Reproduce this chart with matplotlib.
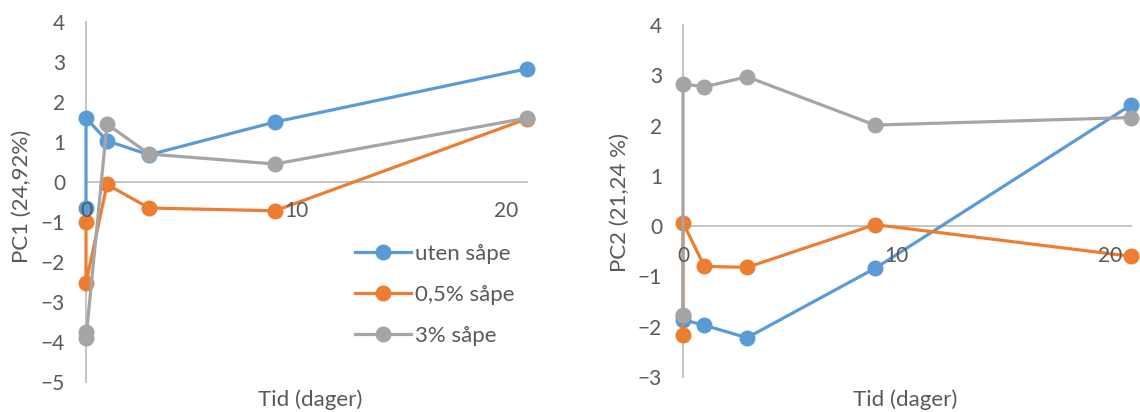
import matplotlib.pyplot as plt

plt.rcParams['font.family'] = ['Lato', 'DejaVu Sans']

days = [0, 0, 1, 3, 9, 21]

pc1_uten = [-0.66, 1.60, 1.03, 0.68, 1.50, 2.83]
pc1_05 = [-1.01, -2.53, -0.06, -0.65, -0.72, 1.58]
pc1_3 = [-3.74, -3.91, 1.45, 0.70, 0.45, 1.60]

pc2_uten = [-1.78, -1.86, -1.97, -2.22, -0.84, 2.41]
pc2_05 = [-2.17, 0.07, -0.80, -0.82, 0.03, -0.60]
pc2_3 = [-1.77, 2.83, 2.77, 2.97, 2.01, 2.16]

labels = ['uten såpe', '0,5% såpe', '3% såpe']
colors = ['#5B9BD5', '#ED7D31', '#A5A5A5']
txt = '#595959'
axcol = '#BFBFBF'

fig = plt.figure(figsize=(11.4, 4.12), dpi=100)
ax1 = fig.add_axes([86 / 1140, 1 - 382 / 412, 441 / 1140, 360 / 412])
ax2 = fig.add_axes([683 / 1140, 1 - 377 / 412, 448 / 1140, 352 / 412])


def style(ax, ylo, yhi, ylabel):
    ax.set_xlim(0, 21)
    ax.set_ylim(ylo, yhi)
    ax.set_yticks(range(ylo, yhi + 1))
    ax.set_xticks([0, 10, 20])
    for s in ['top', 'right']:
        ax.spines[s].set_visible(False)
    ax.spines['bottom'].set_position(('data', 0))
    ax.spines['left'].set_color(axcol)
    ax.spines['bottom'].set_color(axcol)
    ax.spines['left'].set_linewidth(1.3)
    ax.spines['bottom'].set_linewidth(1.3)
    ax.tick_params(axis='y', length=0, pad=15, labelsize=15, labelcolor=txt)
    ax.tick_params(axis='x', length=0, pad=14, labelsize=15, labelcolor=txt)
    ax.set_ylabel(ylabel, fontsize=16, color=txt)
    ax.set_xlabel('Tid (dager)', fontsize=16, color=txt)
    ax.xaxis.set_zorder(4)
    ax.patch.set_visible(False)


for ax, series in [(ax1, [pc1_uten, pc1_05, pc1_3]), (ax2, [pc2_uten, pc2_05, pc2_3])]:
    for vals, c, lab in zip(series, colors, labels):
        ax.plot(days, vals, color=c, lw=2.3, marker='o', ms=10.5, label=lab,
                clip_on=False, zorder=3)

style(ax1, -5, 4, 'PC1 (24,92%)')
style(ax2, -3, 4, 'PC2 (21,24 %)')
ax1.yaxis.set_label_coords(-0.145, 0.517)
ax2.yaxis.set_label_coords(-0.141, 0.497)
ax1.xaxis.set_label_coords(0.508, -0.05)
ax2.xaxis.set_label_coords(0.496, -0.065)
for ax in (ax1, ax2):
    ax.xaxis.label.set_va('center')
    ax.yaxis.label.set_va('center')

ax1.legend(loc='center left', bbox_to_anchor=(355 / 1140, 1 - 295 / 412),
           bbox_transform=fig.transFigure, frameon=False, fontsize=16,
           handlelength=2.5, handletextpad=0.2, labelspacing=0.95,
           borderpad=0, borderaxespad=0, labelcolor=txt)

fig.savefig('out.png', dpi=100)
